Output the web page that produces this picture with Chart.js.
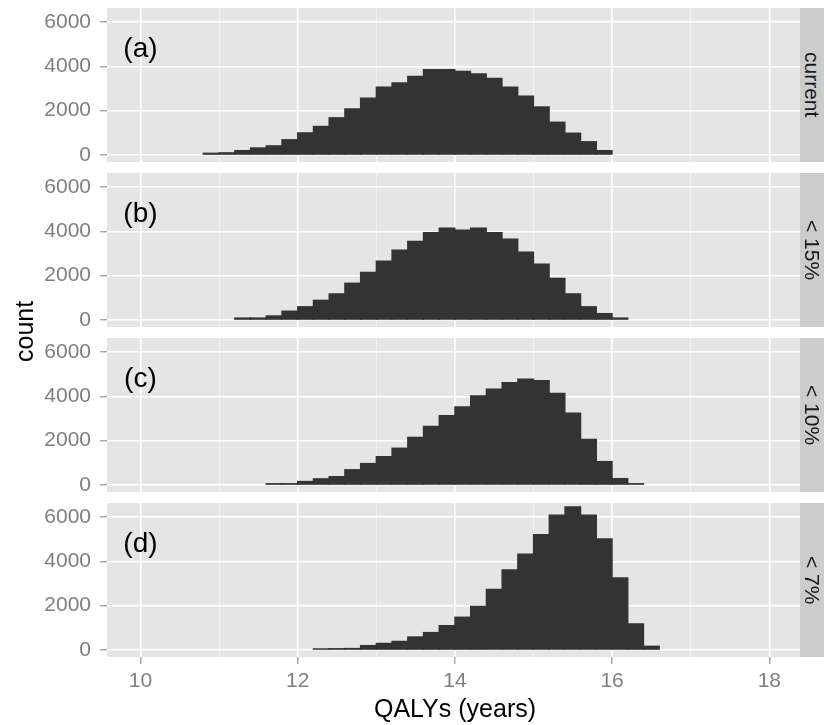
<!DOCTYPE html>
<html>
<head>
<meta charset="utf-8">
<script src="https://cdn.jsdelivr.net/npm/chart.js@4.4.0/dist/chart.umd.min.js"></script>
<style>
	body { margin:0; background:#fff; }
	#wrap { position:relative; width:824px; height:725px; overflow:hidden; font-family:"Liberation Sans", Arial, sans-serif; }
	#wrap canvas { position:absolute; left:0; }
	.strip { position:absolute; left:800px; width:24px; height:154px; background:#CCCCCC; color:#1A1A1A; font-size:21px; writing-mode:vertical-rl; text-align:center; line-height:24px; }
	.ytitle { position:absolute; left:9px; top:296px; width:30px; height:70px; writing-mode:vertical-rl; transform:rotate(180deg); font-size:25px; line-height:30px; text-align:center; color:#000; }
	.xtitle { position:absolute; left:335px; top:693px; width:240px; text-align:center; font-size:25px; line-height:30px; color:#000; }
</style>
</head>
<body>
<div id="wrap">
	<canvas id="pa" width="810" height="174"></canvas>
	<canvas id="pb" width="810" height="174"></canvas>
	<canvas id="pc" width="810" height="174"></canvas>
	<canvas id="pd" width="810" height="232"></canvas>
	<div class="strip" style="top:8px">current</div>
	<div class="strip" style="top:173px">&lt; 15%</div>
	<div class="strip" style="top:338px">&lt; 10%</div>
	<div class="strip" style="top:503px">&lt; 7%</div>
	<div class="ytitle">count</div>
	<div class="xtitle">QALYs (years)</div>
</div>
<script>
// bin centres (bin width 0.2 years)
var bins = [10.9, 11.1, 11.3, 11.5, 11.7, 11.9, 12.1, 12.3, 12.5, 12.7, 12.9, 13.1, 13.3, 13.5, 13.7,
	13.9, 14.1, 14.3, 14.5, 14.7, 14.9, 15.1, 15.3, 15.5, 15.7, 15.9, 16.1, 16.3, 16.5];

var countsCurrent = [80, 100, 200, 320, 415, 690, 1000, 1290, 1680, 2080, 2570, 3060, 3250, 3550, 3850,
	3850, 3770, 3660, 3460, 3060, 2660, 2170, 1480, 985, 600, 200, null, null, null];
var counts15 = [null, null, 90, 90, 185, 400, 600, 890, 1180, 1660, 2150, 2660, 3150, 3550, 3940,
	4140, 4050, 4140, 3940, 3650, 3060, 2520, 1880, 1180, 600, 290, 90, null, null];
var counts10 = [null, null, null, null, 60, 60, 160, 280, 380, 690, 970, 1280, 1660, 2150, 2640,
	3130, 3530, 4020, 4330, 4620, 4780, 4710, 4130, 3240, 2060, 1060, 290, 60, null];
var counts7 = [null, null, null, null, null, null, null, 50, 60, 70, 200, 300, 390, 590, 790,
	1100, 1480, 1970, 2740, 3610, 4320, 5200, 6080, 6460, 6080, 5010, 3250, 1180, 170];

var panelLabels = ['(a)', '(b)', '(c)', '(d)'];
var xTicks = [10, 11, 12, 13, 14, 15, 16, 17, 18];
var yTicks = [0, 1000, 2000, 3000, 4000, 5000, 6000];

var panels = [
	{ id:'pa', top:-2, counts:countsCurrent, label:panelLabels[0] },
	{ id:'pb', top:163, counts:counts15, label:panelLabels[1] },
	{ id:'pc', top:328, counts:counts10, label:panelLabels[2] },
	{ id:'pd', top:493, counts:counts7, label:panelLabels[3], bottom:true }
];

var greyText = '#7F7F7F';
var tickFont = { family:'"Liberation Sans", Arial, sans-serif', size:21 };

var panelBg =
	{
		id:'panelBg',
		beforeDraw:function(chart)
		{
			var a = chart.chartArea;
			var ctx = chart.ctx;
			ctx.save();
			ctx.fillStyle = '#E5E5E5';
			ctx.fillRect(a.left, a.top, a.right - a.left, a.bottom - a.top);
			ctx.restore();
		}
	};

var panelTag =
	{
		id:'panelTag',
		afterDatasetsDraw:function(chart, args, opts)
		{
			var ctx = chart.ctx;
			ctx.save();
			ctx.font = '28px "Liberation Sans", Arial, sans-serif';
			ctx.fillStyle = '#000';
			ctx.textAlign = 'center';
			ctx.textBaseline = 'middle';
			ctx.fillText(opts.text, chart.scales.x.getPixelForValue(10), chart.scales.y.getPixelForValue(4750));
			ctx.restore();
		}
	};

//	major lines every "step", minor lines in between
var isMajor = function(c, step)
{
	if( !c.tick ) return true;
	return Math.round(c.tick.value) % step === 0;
};

panels.forEach
(
	function(p)
	{
		var canvas = document.getElementById(p.id);
		canvas.style.top = p.top + 'px';

		new Chart
		(
			canvas,
			{
				type:'bar',
				data:{
					labels:bins,
					datasets:[{
						data:bins.map(function(b, i) { return { x:b, y:p.counts[i] }; }),
						backgroundColor:'#333333',
						borderWidth:0,
						inflateAmount:0.6,
						barPercentage:1,
						categoryPercentage:1
					}]
				},
				options:{
					responsive:false,
					animation:false,
					events:[],
					layout:{ padding:{ left:0, right:10, top:10, bottom:p.bottom ? 28 : 10 } },
					plugins:{ legend:{ display:false }, tooltip:{ enabled:false }, panelTag:{ text:p.label } },
					scales:{
						x:{
							type:'linear',
							offset:false,
							min:9.575,
							max:18.39,
							afterBuildTicks:function(s) { s.ticks = xTicks.map(function(v) { return { value:v }; }); },
							afterFit:function(s)
							{
								s.height = p.bottom ? 40 : 0;
								s.paddingLeft = 0;
								s.paddingRight = 0;
							},
							border:{ display:false },
							grid:{
								offset:false,
								color:function(c) { return isMajor(c, 2) ? '#FFFFFF' : '#F2F2F2'; },
								lineWidth:function(c) { return isMajor(c, 2) ? 1.6 : 1; },
								drawTicks:!!p.bottom,
								tickLength:7,
								tickWidth:1,
								tickColor:function(c) { return isMajor(c, 2) ? greyText : 'rgba(0,0,0,0)'; }
							},
							ticks:{
								display:!!p.bottom,
								padding:5,
								color:greyText,
								font:tickFont,
								callback:function(v) { return v % 2 === 0 ? String(v) : ''; }
							}
						},
						y:{
							min:-316,
							max:6630,
							afterBuildTicks:function(s) { s.ticks = yTicks.map(function(v) { return { value:v }; }); },
							afterFit:function(s)
							{
								s.width = 107;
								s.paddingTop = 0;
								s.paddingBottom = 0;
							},
							border:{ display:false },
							grid:{
								color:function(c) { return isMajor(c, 2000) ? '#FFFFFF' : '#F2F2F2'; },
								lineWidth:function(c) { return isMajor(c, 2000) ? 1.6 : 1; },
								tickLength:7,
								tickWidth:1,
								tickColor:function(c) { return isMajor(c, 2000) ? greyText : 'rgba(0,0,0,0)'; }
							},
							ticks:{
								padding:9,
								color:greyText,
								font:tickFont,
								callback:function(v) { return v % 2000 === 0 ? String(v) : ''; }
							}
						}
					}
				},
				plugins:[panelBg, panelTag]
			}
		);
	}
);
</script>
</body>
</html>
